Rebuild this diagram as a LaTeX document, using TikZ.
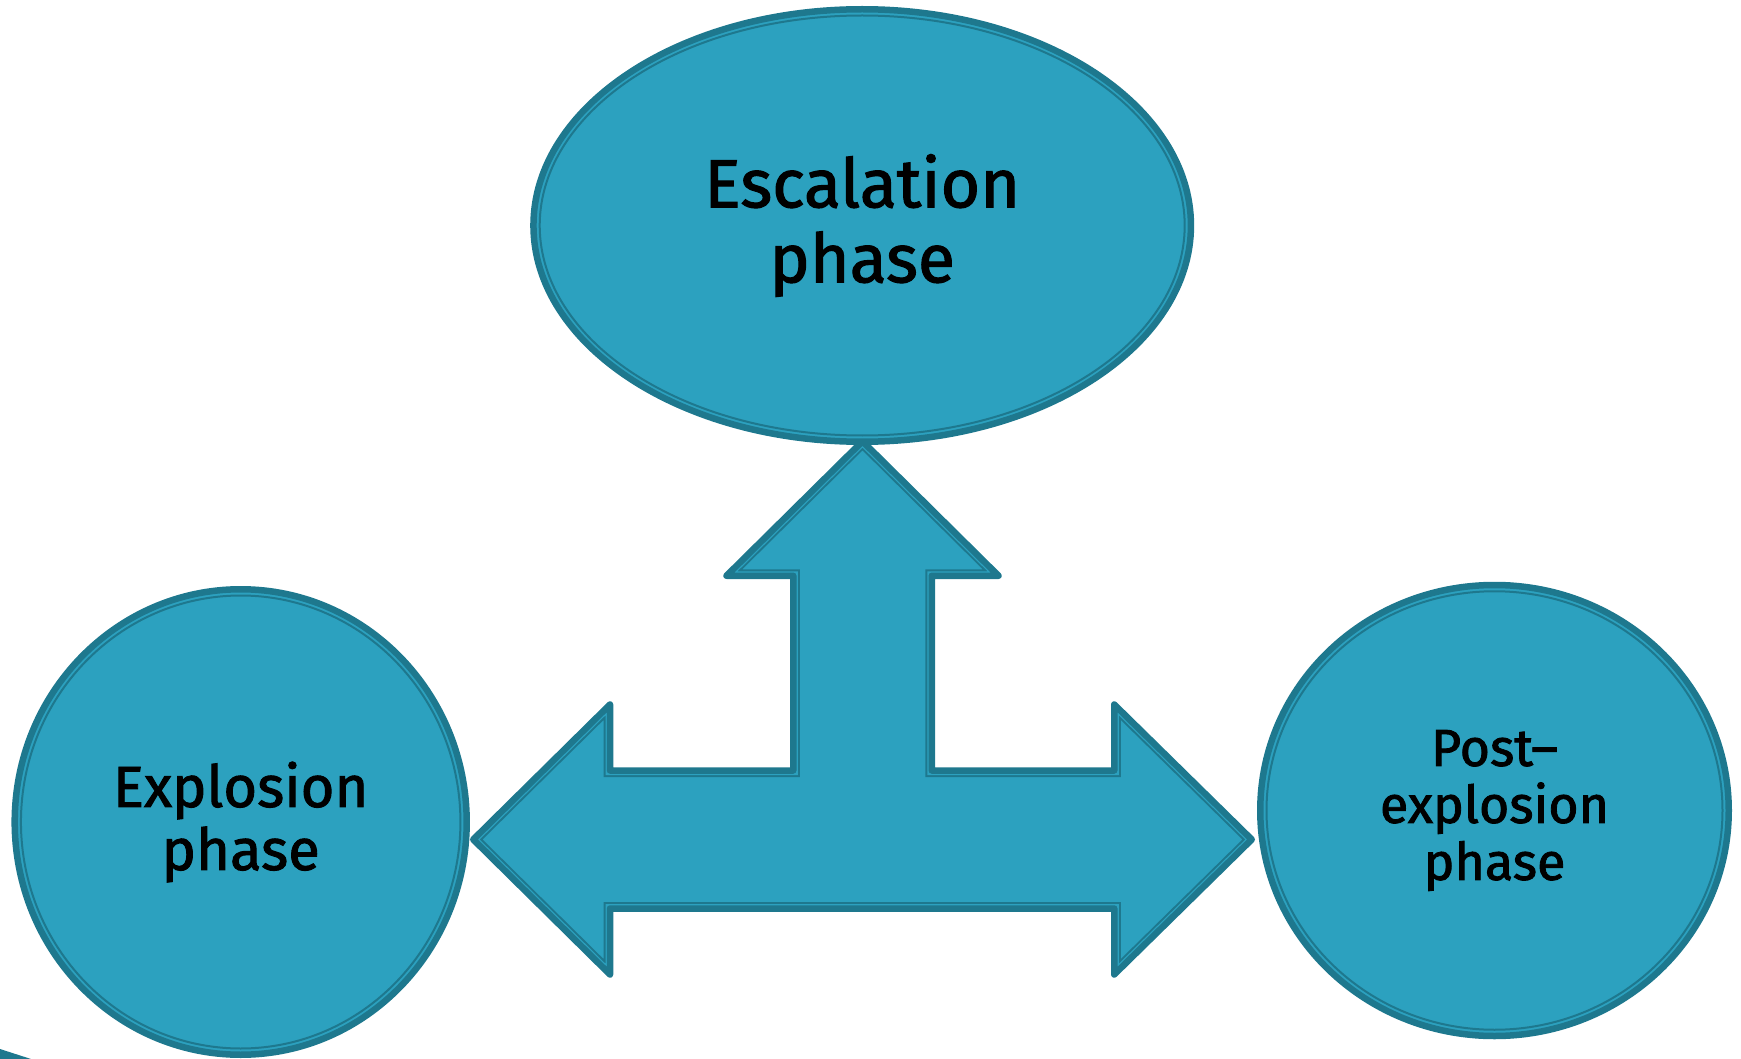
\documentclass[tikz,border=0pt]{standalone}
\usepackage{fontspec}
\setmainfont[FakeBold=1.6]{Fira Sans}
\usetikzlibrary{shapes.geometric}
\definecolor{tealfill}{RGB}{44,161,191}
\definecolor{tealdark}{RGB}{30,120,142}
\def\arrowpath{(862.5,441.25) -- (998.5,575.75) -- (931.75,575.75) -- (931.75,770.5) -- (1114.25,770.5) -- (1114.25,704.5) -- (1251.75,839.5) -- (1114.25,974.5) -- (1114.25,908.5) -- (610,908.5) -- (610,974.5) -- (473.25,839.5) -- (610,704.5) -- (610,770.5) -- (793.25,770.5) -- (793.25,575.75) -- (726.5,575.75) -- cycle}
\begin{document}
\begin{tikzpicture}[x=1pt,y=-1pt,
  bubble/.style n args={4}{ellipse, inner sep=0pt,
    minimum width=#1pt, minimum height=#2pt,
    fill=tealfill, draw=tealdark, line width=6.5pt, align=center, text=black,
    path picture={\draw[tealdark, line width=2pt] (path picture bounding box.center) ellipse [x radius=#3, y radius=#4];}},
  outerline/.style={draw=tealdark, line width=6.5pt, line join=round},
]
\useasboundingbox (0,0) rectangle (1741,1059);
% sliver of a shape at the bottom-left corner
\fill[tealdark] (0,1049) -- (31,1059) -- (0,1059) -- cycle;
% three-way arrow
\fill[tealfill] \arrowpath;
\begin{scope}
  \clip \arrowpath;
  \draw[tealdark, line width=13pt, line join=miter] \arrowpath;
  \draw[tealfill, line width=9pt, line join=miter] \arrowpath;
\end{scope}
\draw[outerline] \arrowpath;
% phases
\node[bubble={657.5}{432.5}{322.5}{210}, font=\fontsize{68}{75}\selectfont] (esc) at (862.2,225.5) {Escalation\\phase};
\node[bubble={452}{465.5}{219.75}{226.5}, font=\fontsize{58}{63}\selectfont] (expl) at (240.7,822) {Explosion\\phase};
\node[bubble={468.5}{451}{228}{219.25}, font=\fontsize{52}{57}\selectfont] (post) at (1494.5,810.5) {Post--\\explosion\\phase};
\end{tikzpicture}
\end{document}
